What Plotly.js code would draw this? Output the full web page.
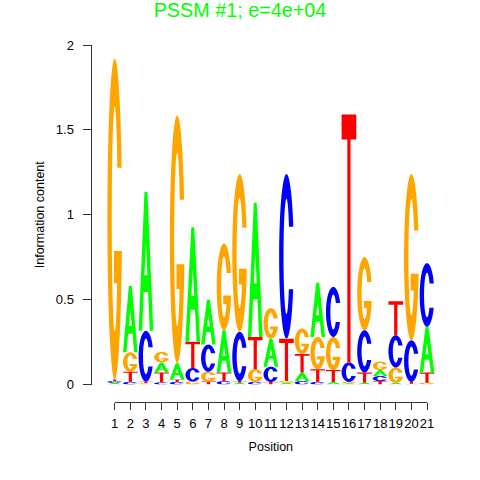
<!DOCTYPE html>
<html>
<head>
<meta charset="utf-8">
<script src="https://cdn.plot.ly/plotly-3.0.1.min.js"></script>
<style>html,body{margin:0;padding:0;background:#fff;}#chart{width:480px;height:480px;}</style>
</head>
<body>
<div id="chart"></div>
<script>
// ---- data ----
const positions = [1,2,3,4,5,6,7,8,9,10,11,12,13,14,15,16,17,18,19,20,21];
const positionLabels = ['1','2','3','4','5','6','7','8','9','10','11','12','13','14','15','16','17','18','19','20','21'];
const heightA = [0.01,0.39,0.82,0.06,0.095,0.674,0.265,0.25,0.01,0.79,0.165,0.01,0.05,0.32,0.015,0.007,0.01,0.035,0.01,0.005,0.27];
const heightC = [0.01,0.015,0.30,0.012,0.015,0.08,0.16,0.02,0.29,0.015,0.09,0.97,0.02,0.015,0.295,0.115,0.25,0.03,0.19,0.245,0.375];
const heightG = [1.89,0.115,0.008,0.062,1.46,0.017,0.058,0.51,0.93,0.075,0.18,0.01,0.15,0.19,0.195,0.008,0.43,0.05,0.09,0.98,0.01];
const heightT = [0.01,0.06,0.008,0.058,0.015,0.155,0.017,0.05,0.01,0.19,0.015,0.25,0.11,0.075,0.07,1.46,0.06,0.02,0.20,0.01,0.06];
const yTickVals = [0,0.5,1,1.5,2];
const yTickText = ['0','0.5','1','1.5','2'];
const titleText = 'PSSM #1; e=4e+04';
const xTitle = 'Position';
const yTitle = 'Information content';

// ---- styles ----
const letterColors = {A:'#00FF00', C:'#0000FF', G:'#FFA500', T:'#FF0000'};
const FONT = 'Liberation Sans, Arial, Helvetica, sans-serif';
const LETTER_W = 0.94;

// ---- glyph outlines in a unit box ----
function ell(rx, ry, deg){const t=deg*Math.PI/180;return [0.5+rx*Math.cos(t),0.5+ry*Math.sin(t)];}
function arc(rx, ry, a0, a1, n){const p=[];for(let i=0;i<=n;i++){p.push(ell(rx,ry,a0+(a1-a0)*i/n));}return p;}
const D = 180/Math.PI;
const ORX=0.5, ORY=0.5, IRX=0.2, IRY=0.35;
function glyphC(){
  const yU=0.68, yL=0.30;
  const oa0=Math.asin((yU-0.5)/ORY)*D, oa1=360+Math.asin((yL-0.5)/ORY)*D;
  const ia0=Math.asin((yU-0.5)/IRY)*D, ia1=360+Math.asin((yL-0.5)/IRY)*D;
  return [arc(ORX,ORY,oa0,oa1,60).concat(arc(IRX,IRY,ia1,ia0,60))];
}
function glyphG(){
  const yU=0.66, barTop=0.40, barBot=0.30, barL=0.45;
  const oa0=Math.asin((yU-0.5)/ORY)*D, oa1=360+Math.asin((barTop-0.5)/ORY)*D;
  const ia0=Math.asin((yU-0.5)/IRY)*D, ia1=360+Math.asin((barBot-0.5)/IRY)*D;
  const outer=arc(ORX,ORY,oa0,oa1,60);
  const innerStart=ell(IRX,IRY,ia1);
  const pts=outer.concat([[barL,barTop],[barL,barBot],[innerStart[0],barBot]]).concat(arc(IRX,IRY,ia1,ia0,60));
  return [pts];
}
function glyphA(){
  const outer=[[0,0],[0.4,1],[0.6,1],[1,0],[0.76,0],[0.65,0.28],[0.35,0.28],[0.24,0]];
  const hole=[[0.40,0.40],[0.5,0.64],[0.60,0.40]];
  return [outer,hole];
}
function glyphT(){
  return [[[0,1],[1,1],[1,0.9],[0.61,0.9],[0.61,0],[0.39,0],[0.39,0.9],[0,0.9]]];
}
const glyphs = {A:glyphA(), C:glyphC(), G:glyphG(), T:glyphT()};

function glyphPath(letter, x0, y0, w, h){
  return glyphs[letter].map(ring => 'M' + ring.map(p => (x0+p[0]*w).toFixed(5)+','+(y0+p[1]*h).toFixed(6)).join('L') + 'Z').join(' ');
}

// ---- build stacked letters ----
const heights = {A:heightA, C:heightC, G:heightG, T:heightT};
const letters = ['A','C','G','T'];
const shapes = [];
positions.forEach((pos, i) => {
  const col = letters.map(l => ({l, h: heights[l][i]})).sort((a,b) => a.h - b.h);
  let y = 0;
  col.forEach(item => {
    if (item.h > 0) {
      shapes.push({type:'path', xref:'x', yref:'y', layer:'above',
        path: glyphPath(item.l, pos - LETTER_W/2, y, LETTER_W, item.h),
        fillcolor: letterColors[item.l], line:{width:0}});
    }
    y += item.h;
  });
});

// ---- layout: pixel geometry of the R-style plot ----
const W=480, H=480;
const xTick1=114.7, xTick21=427.0, y0px=384.5, y2px=45;
const unit=(xTick21-xTick1)/20;
const fx = px => px/W, fy = px => 1 - px/H;

const data = [
  {type:'scatter', x:[], y:[], xaxis:'x', yaxis:'y', hoverinfo:'skip', showlegend:false},
  {type:'scatter', x:[], y:[], xaxis:'x2', yaxis:'y2', hoverinfo:'skip', showlegend:false}
];
const tickFont = {family:FONT, size:13, color:'#000'};
const titleFont = {family:FONT, size:12.5, color:'#000'};
const layout = {
  width:W, height:H, margin:{l:0,r:0,t:0,b:0}, paper_bgcolor:'#fff', plot_bgcolor:'rgba(0,0,0,0)',
  showlegend:false, shapes:shapes,
  title:{text:titleText, font:{family:FONT, size:19.8, color:'#00FF00'}, x:0.5, xref:'paper', xanchor:'center', y:1-10/H, yref:'container', yanchor:'middle'},
  xaxis:{domain:[fx(xTick1-0.5*unit), fx(xTick21+0.5*unit)], range:[0.5,21.5], visible:false, fixedrange:true},
  yaxis:{domain:[fy(y0px), fy(y2px)], range:[0,2], visible:false, fixedrange:true},
  xaxis2:{domain:[fx(xTick1), fx(xTick21)], range:[1,21], anchor:'free', position:fy(401.5),
    tickmode:'array', tickvals:positions, ticktext:positionLabels, ticks:'outside', ticklen:7, tickwidth:1, tickcolor:'#333',
    showline:true, linecolor:'#333', linewidth:1, showgrid:false, zeroline:false, automargin:false, tickangle:0,
    ticklabelstandoff:3,
    tickfont:tickFont, title:{text:xTitle, font:titleFont, standoff:12}},
  yaxis2:{domain:[fy(y0px), fy(y2px)], range:[0,2], anchor:'free', position:fx(90.5),
    tickmode:'array', tickvals:yTickVals, ticktext:yTickText, ticks:'outside', ticklen:8, tickwidth:1, tickcolor:'#333',
    showline:true, linecolor:'#333', linewidth:1, showgrid:false, zeroline:false, automargin:false,
    ticklabelstandoff:6,
    tickfont:tickFont, title:{text:yTitle, font:titleFont, standoff:7}}
};
Plotly.newPlot('chart', data, layout, {staticPlot:true, displayModeBar:false});
</script>
</body>
</html>
